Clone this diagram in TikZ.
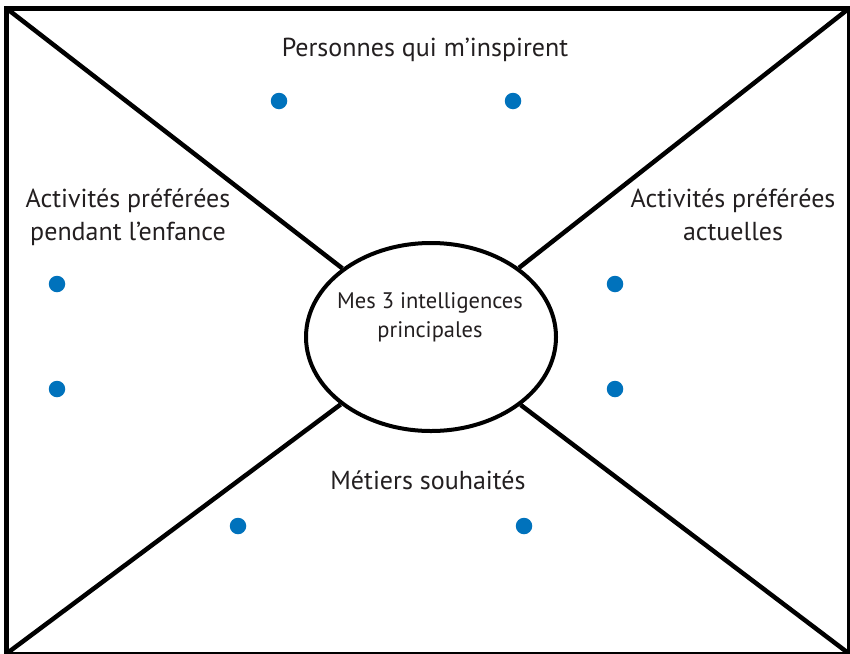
\documentclass[tikz,border=0pt]{standalone}
\usepackage{fontspec}
\setmainfont{PT Sans}
\usetikzlibrary{shapes.geometric}
\definecolor{dotblue}{RGB}{0,114,188}
\definecolor{txt}{RGB}{35,31,32}
\tikzset{
  frame/.style={line width=5pt},
  spoke/.style={line width=4.5pt},
  core/.style={draw, ellipse, line width=4pt, minimum width=250pt, minimum height=188pt, inner sep=0pt},
  lbl/.style={text=txt, align=center, font=\fontsize{26}{33}\selectfont, inner sep=0pt, anchor=base},
  corelbl/.style={text=txt, align=center, font=\fontsize{22.5}{29}\selectfont, inner sep=0pt, anchor=base},
  bullet/.style={circle, fill=dotblue, minimum size=16.5pt, inner sep=0pt}
}
\begin{document}
\begin{tikzpicture}[x=1pt, y=-1pt]
\useasboundingbox (0,0) rectangle (850,653);
\fill[white] (0,0) rectangle (850,653);
\coordinate (tl) at (6,8);
\coordinate (tr) at (849.5,8);
\coordinate (br) at (849.5,654);
\coordinate (bl) at (6,654);
\draw[frame] (tl) -- (tr) -- (br) -- (bl) -- cycle;
\node[core] (ell) at (431,337) {};
\draw[spoke] (tl) -- (ell);
\draw[spoke] (tr) -- (ell);
\draw[spoke] (bl) -- (ell);
\draw[spoke] (br) -- (ell);
\node[corelbl] (coretext) at (430,337) {Mes 3 intelligences\\principales};
\node[lbl] (top) at (425,56) {Personnes qui m’inspirent};
\node[lbl] (left) at (128,240) {Activités préférées\\pendant l’enfance};
\node[lbl] (right) at (733,240) {Activités préférées\\actuelles};
\node[lbl] (bottom) at (428,489) {Métiers souhaités};
\node[bullet] (t1) at (279,101) {};
\node[bullet] (t2) at (513,101) {};
\node[bullet] (l1) at (57,284) {};
\node[bullet] (l2) at (57,389) {};
\node[bullet] (r1) at (615,284) {};
\node[bullet] (r2) at (615,389) {};
\node[bullet] (b1) at (238,526) {};
\node[bullet] (b2) at (524,526) {};
\end{tikzpicture}
\end{document}
